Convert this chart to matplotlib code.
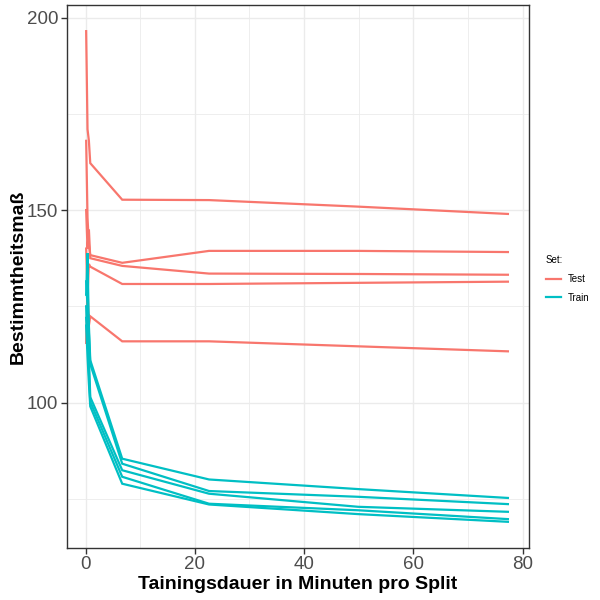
import matplotlib
matplotlib.use("Agg")
import matplotlib.pyplot as plt
from matplotlib.ticker import MultipleLocator
from matplotlib.lines import Line2D

plt.rcParams['font.family'] = ['Liberation Sans', 'DejaVu Sans']

# Trainingsdauer (Minuten) je Messpunkt
minutes = [0.1, 0.35, 0.6, 0.85, 6.7, 22.6, 49.9, 77.3]

test_splits = [
    [196.5, 171.0, 168.0, 162.2, 152.7, 152.6, 150.9, 149.0],
    [168.0, 148.0, 141.0, 138.3, 136.3, 139.4, 139.4, 139.1],
    [150.0, 140.0, 145.0, 137.5, 135.5, 133.5, 133.4, 133.2],
    [140.0, 128.0, 136.0, 135.3, 130.8, 130.8, 131.1, 131.4],
    [115.5, 130.0, 120.0, 122.4, 115.9, 115.9, 114.6, 113.3],
]
train_splits = [
    [131.5, 125.0, 120.0, 111.0, 85.4, 80.0, 77.5, 75.2],
    [128.0, 138.8, 118.0, 110.0, 84.1, 77.0, 75.5, 73.6],
    [125.0, 115.0, 112.0, 101.4, 82.4, 76.3, 72.9, 71.6],
    [122.0, 118.0, 108.0, 100.2, 80.7, 73.7, 72.0, 69.7],
    [120.0, 112.0, 105.0, 99.0, 78.9, 73.5, 71.0, 69.0],
]
set_names = ["Test", "Train"]
set_colors = ["#F8766D", "#00BFC4"]

fig = plt.figure(figsize=(6, 6), dpi=100)
ax = fig.add_axes([0.111, 0.0867, 0.771, 0.905])

for name, color, splits in zip(set_names, set_colors, [test_splits, train_splits]):
    for vals in splits:
        ax.plot(minutes, vals, color=color, lw=1.6, solid_joinstyle='miter')

ax.set_xlim(-3.48, 81.2)
ax.set_ylim(62.2, 203.3)
ax.xaxis.set_major_locator(MultipleLocator(20))
ax.xaxis.set_minor_locator(MultipleLocator(10))
ax.yaxis.set_major_locator(MultipleLocator(50))
ax.yaxis.set_minor_locator(MultipleLocator(25))
ax.yaxis.set_ticks([100, 150, 200])

ax.grid(which='major', color='#EBEBEB', lw=1.0)
ax.grid(which='minor', color='#EBEBEB', lw=0.6)
ax.set_axisbelow(True)
for s in ax.spines.values():
    s.set_color('#333333')
    s.set_linewidth(1.0)
ax.tick_params(which='major', length=4, width=1, color='#333333',
               labelsize=13.5, labelcolor='#4D4D4D', pad=2)
ax.tick_params(which='minor', length=0)

ax.set_xlabel("Tainingsdauer in Minuten pro Split", fontsize=14,
              fontweight='bold', labelpad=2)
ax.set_ylabel("Bestimmtheitsmaß", fontsize=14, fontweight='bold', labelpad=0)

handles = [Line2D([0], [0], color=c, lw=1.6) for c in set_colors]
leg = fig.legend(handles, set_names, title="Set:", loc='center left',
                 bbox_to_anchor=(0.895, 0.535), frameon=False, fontsize=7,
                 title_fontsize=7, handlelength=1.6, handletextpad=0.7,
                 labelspacing=0.9)
leg._legend_box.align = "left"

fig.savefig("out.png", dpi=100)
